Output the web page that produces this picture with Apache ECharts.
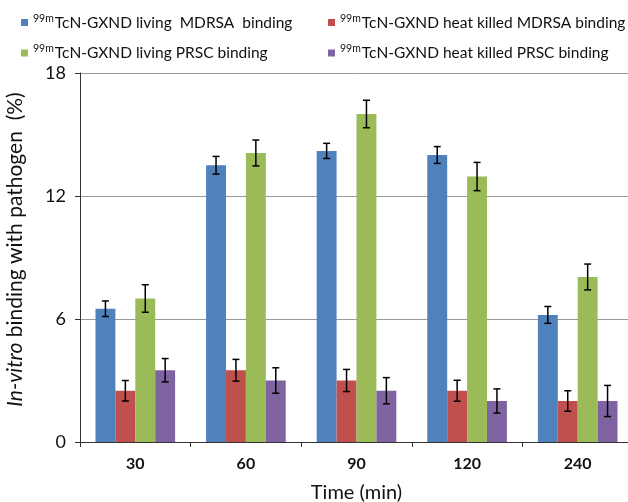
<!DOCTYPE html>
<html><head><meta charset="utf-8">
<script src="https://cdn.jsdelivr.net/npm/echarts@6/dist/echarts.min.js"></script>
<style>html,body{margin:0;padding:0;background:#fff}#c{width:628px;height:502px}</style>
</head><body><div id="c"></div>
<script>
const categories = ['30', '60', '90', '120', '240'];
const seriesNames = [
  'TcN-GXND living  MDRSA  binding',
  'TcN-GXND heat killed MDRSA binding',
  'TcN-GXND living PRSC binding',
  'TcN-GXND heat killed PRSC binding'
];
const livingMDRSA = [6.5, 13.5, 14.2, 14.0, 6.2];
const livingMDRSAErr = [0.38, 0.43, 0.37, 0.41, 0.41];
const killedMDRSA = [2.5, 3.5, 3.0, 2.5, 2.0];
const killedMDRSAErr = [0.5, 0.53, 0.54, 0.51, 0.5];
const livingPRSC = [7.0, 14.1, 16.0, 12.95, 8.05];
const livingPRSCErr = [0.67, 0.63, 0.67, 0.69, 0.63];
const killedPRSC = [3.5, 3.0, 2.5, 2.0, 2.0];
const killedPRSCErr = [0.57, 0.62, 0.64, 0.59, 0.76];
const yTicks = [0, 6, 12, 18];

const colors = ['#4F81BD', '#C0504D', '#9BBB59', '#8064A2'];
const values = [livingMDRSA, killedMDRSA, livingPRSC, killedPRSC];
const errs = [livingMDRSAErr, killedMDRSAErr, livingPRSCErr, killedPRSCErr];
const FONT = 'Lato';
const CAT_GAP = 0.28;

const chart = echarts.init(document.getElementById('c'), null, {renderer: 'canvas'});

const barSeries = values.map((v, i) => ({
  name: seriesNames[i], type: 'bar', data: v, barGap: '0%', barCategoryGap: (CAT_GAP*100)+'%',
  itemStyle: {color: colors[i]}, z: 2
}));
const errSeries = values.map((v, i) => ({
  name: seriesNames[i] + ' err', type: 'custom', z: 5,
  data: v.map((val, k) => [k, val, errs[i][k]]),
  renderItem: function (params, api) {
    const k = api.value(0), val = api.value(1), e = api.value(2);
    const band = api.size([1, 0])[0];
    const bw = band * (1 - CAT_GAP) / 4;
    const off = (i - 1.5) * bw;
    const c = api.coord([k, val]);
    const hi = api.coord([k, val + e]);
    const lo = api.coord([k, val - e]);
    const x = c[0] + off, cap = 3.5;
    const st = {stroke: '#000', lineWidth: 1.5};
    return {type: 'group', children: [
      {type: 'line', shape: {x1: x, y1: hi[1], x2: x, y2: lo[1]}, style: st},
      {type: 'line', shape: {x1: x - cap, y1: hi[1], x2: x + cap, y2: hi[1]}, style: st},
      {type: 'line', shape: {x1: x - cap, y1: lo[1], x2: x + cap, y2: lo[1]}, style: st}
    ]};
  }
}));

const legendText = {
  fontFamily: FONT, fontSize: 15.5, color: '#111',
  rich: {
    sup: {fontFamily: FONT, fontSize: 10.5, padding: [0, 1, 8, 0], color: '#111'},
    m: {fontFamily: FONT, fontSize: 15.5, color: '#111'}
  }
};
const legendFmt = name => '{sup|99m}{m|' + name + '}';

chart.setOption({
  animation: false,
  color: colors,
  legend: [
    {left: 16, top: 8, orient: 'vertical', itemGap: 13, itemWidth: 7, itemHeight: 7, icon: 'rect',
     data: [seriesNames[0], seriesNames[2]], formatter: legendFmt, textStyle: legendText},
    {left: 323, top: 8, orient: 'vertical', itemGap: 13, itemWidth: 7, itemHeight: 7, icon: 'rect',
     data: [seriesNames[1], seriesNames[3]], formatter: legendFmt, textStyle: legendText}
  ],
  grid: {left: 80, top: 73, width: 553, height: 369, outerBoundsMode: 'none', containLabel: false},
  xAxis: {
    type: 'category', data: categories,
    axisLine: {lineStyle: {color: '#333', width: 1}},
    axisTick: {show: true, length: 5, lineStyle: {color: '#333'}},
    axisLabel: {fontFamily: FONT, fontSize: 16, fontWeight: 'bold', color: '#111', margin: 14},
    name: 'Time (min)', nameLocation: 'middle', nameGap: 41,
    nameTextStyle: {fontFamily: FONT, fontSize: 20, color: '#111'}
  },
  yAxis: {
    type: 'value', min: 0, max: 18, interval: 6,
    axisLine: {show: true, lineStyle: {color: '#333', width: 1}},
    axisTick: {show: true, length: 5, lineStyle: {color: '#333'}},
    axisLabel: {fontFamily: FONT, fontSize: 18, color: '#111', margin: 14,
      formatter: v => yTicks.includes(v) ? String(v) : ''},
    splitLine: {lineStyle: {color: '#999', width: 1}},
    name: '{i|In-vitro} binding with pathogen  (%)', nameLocation: 'middle', nameRotate: 90, nameGap: 54,
    nameTextStyle: {fontFamily: FONT, fontSize: 21, color: '#111', padding: [0, 0, 0, 16],
      rich: {i: {fontFamily: FONT, fontSize: 21, fontStyle: 'italic', color: '#111'}}}
  },
  series: barSeries.concat(errSeries)
});
</script></body></html>
